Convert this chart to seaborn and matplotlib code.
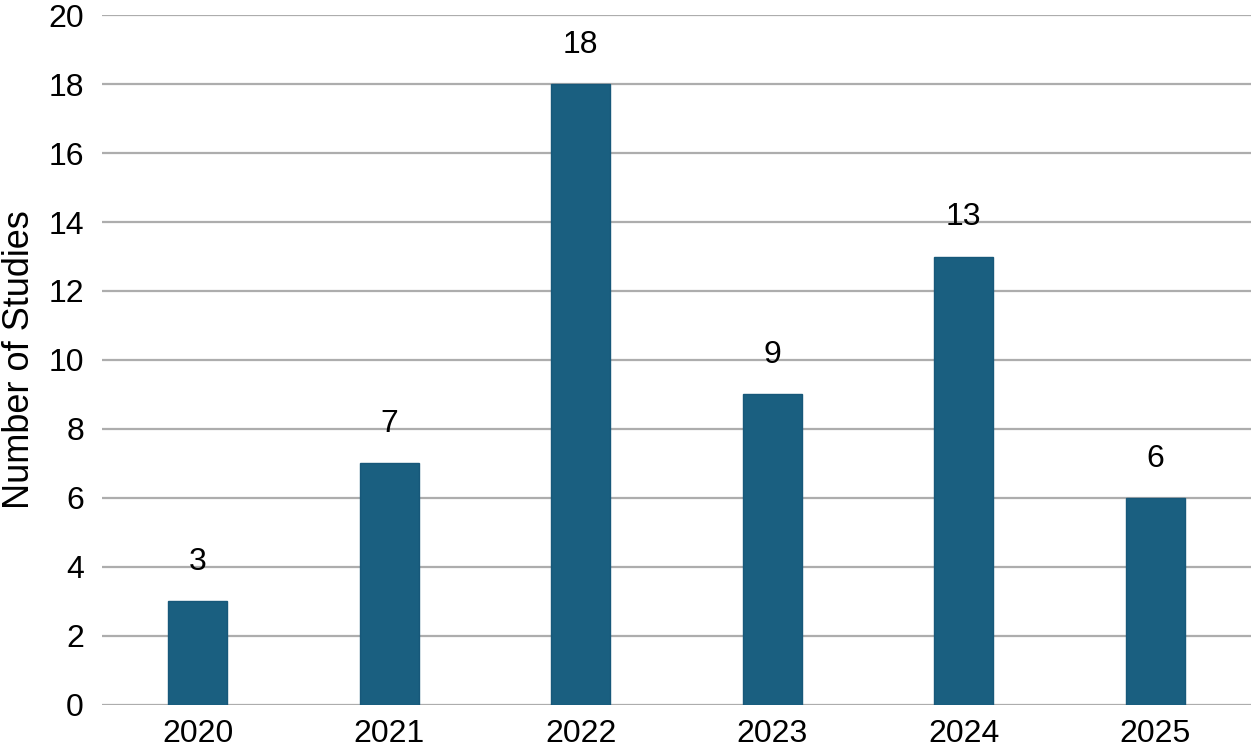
import pandas as pd
import matplotlib.pyplot as plt
import seaborn as sns

sns.set_theme(style="white")
plt.rcParams['font.family'] = ['Liberation Sans', 'DejaVu Sans']

years = ["2020", "2021", "2022", "2023", "2024", "2025"]
studies = [3, 7, 18, 9, 13, 6]

df = pd.DataFrame({"Year": years, "Studies": studies})

fig = plt.figure(figsize=(12.55, 7.51), dpi=100)
ax = fig.add_axes([0.0813, 0.0613, 0.9155, 0.9187])

sns.barplot(data=df, x="Year", y="Studies", color="#1A5F80", saturation=1,
            width=0.31, edgecolor="#17587a", linewidth=1, ax=ax, zorder=3)

# value labels above each bar
for i, v in enumerate(studies):
    ax.text(i, v + 0.7, str(v), ha="center", va="bottom", fontsize=23, color="black")

ax.set_ylim(0, 20)
ax.set_yticks(range(0, 21, 2))
ax.set_xlim(-0.5, 5.5)
ax.yaxis.grid(True, color="#adadad", linewidth=1.6, zorder=0)
ax.set_axisbelow(True)
for s in ax.spines.values():
    s.set_visible(False)
ax.tick_params(axis="both", labelsize=23, colors="black", length=0)
ax.tick_params(axis="y", pad=13)
ax.tick_params(axis="x", pad=10)
ax.set_xlabel("")
ax.set_ylabel("Number of Studies", fontsize=26, color="black", labelpad=8)

plt.savefig("out.png", dpi=100)
